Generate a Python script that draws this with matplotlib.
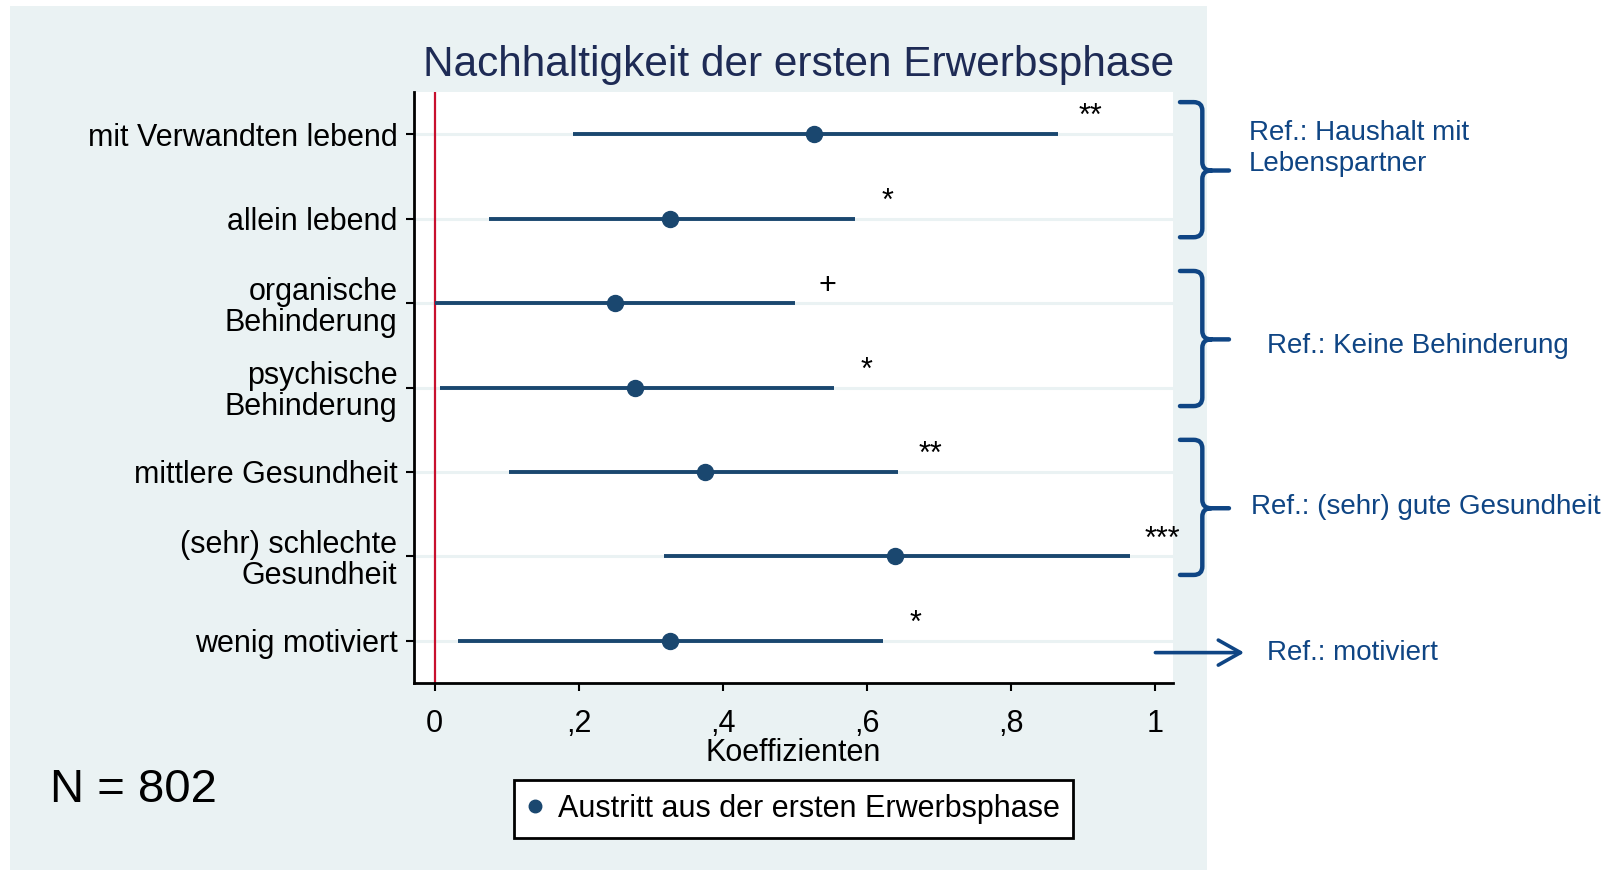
import matplotlib
matplotlib.use("Agg")
import matplotlib.pyplot as plt
from matplotlib.lines import Line2D
from matplotlib.path import Path
from matplotlib.patches import PathPatch, Rectangle

plt.rcParams["font.family"] = ["Liberation Sans", "DejaVu Sans"]

# --- data ---
LABELS = [
    "mit Verwandten lebend",
    "allein lebend",
    "organische\nBehinderung",
    "psychische\nBehinderung",
    "mittlere Gesundheit",
    "(sehr) schlechte\nGesundheit",
    "wenig motiviert",
]
COEF = [0.527, 0.327, 0.250, 0.279, 0.376, 0.640, 0.327]
CI_LOW = [0.192, 0.075, 0.000, 0.008, 0.103, 0.318, 0.032]
CI_HIGH = [0.865, 0.584, 0.501, 0.555, 0.644, 0.966, 0.623]
STARS = ["**", "*", "+", "*", "**", "***", "*"]
XTICKS = [0, 0.2, 0.4, 0.6, 0.8, 1.0]
XTICK_LABELS = ["0", ",2", ",4", ",6", ",8", "1"]

# reference groups: (first row, last row, label)
GROUPS = [
    (1, 2, "Ref.: Haushalt mit\nLebenspartner"),
    (3, 4, "Ref.: Keine Behinderung"),
    (5, 6, "Ref.: (sehr) gute Gesundheit"),
]
SINGLE_REF = (7, "Ref.: motiviert")

NAVY = "#1A476F"
REFBLUE = "#0F4584"
BG = "#EAF2F3"

W, H = 1618, 872
fig = plt.figure(figsize=(W / 100, H / 100), dpi=100)
fig.patch.set_facecolor("white")
fig.patches.append(Rectangle((10 / W, 2 / H), 1197 / W, 864 / H, transform=fig.transFigure,
                             facecolor=BG, edgecolor="none", zorder=-10))

ax = fig.add_axes([414 / W, 1 - 683 / H, (1173 - 414) / W, (683 - 92) / H])
ax.set_facecolor("white")

rows = list(range(1, len(LABELS) + 1))

for r in rows:
    ax.axhline(r, color=BG, lw=2.2, zorder=1)
ax.axvline(0, color="#C8102E", lw=1.6, zorder=2)

for r, lo, hi, c in zip(rows, CI_LOW, CI_HIGH, COEF):
    ax.plot([lo, hi], [r, r], color=NAVY, lw=2.8, solid_capstyle="butt", zorder=3)
    ax.plot(c, r, "o", color=NAVY, ms=11.5, zorder=4)

for r, hi, s in zip(rows, CI_HIGH, STARS):
    ax.text(hi + 0.045, r - 0.2, s, ha="center", va="center", fontsize=22, zorder=5)

ax.set_xlim(-0.0285, 1.0253)
ax.set_ylim(7.5, 0.5)
ax.set_yticks(rows)
ax.set_yticklabels(LABELS, fontsize=22, linespacing=1.05)
ax.set_xticks(XTICKS)
ax.set_xticklabels(XTICK_LABELS, fontsize=22)
ax.tick_params(axis="y", length=6, width=1.5, pad=6)
ax.tick_params(axis="x", length=6, width=1.5, pad=13)
for side in ["top", "right"]:
    ax.spines[side].set_visible(False)
for side in ["left", "bottom"]:
    ax.spines[side].set_linewidth(2)

# braces for the reference groups
xh, xs, xt = 1.035, 1.066, 1.103
rx, ry = 0.012, 0.1
for first, last, text in GROUPS:
    top = first - 0.38
    bot = last + 0.22
    tip = (first + last) / 2 - 0.07
    verts = [
        (xh, top), (xs - rx, top), (xs, top), (xs, top + ry),
        (xs, tip - ry), (xs, tip), (xs + rx, tip), (xt, tip),
        (xs + rx, tip), (xs, tip), (xs, tip + ry),
        (xs, bot - ry), (xs, bot), (xs - rx, bot), (xh, bot),
    ]
    codes = [
        Path.MOVETO, Path.LINETO, Path.CURVE3, Path.CURVE3,
        Path.LINETO, Path.CURVE3, Path.CURVE3, Path.LINETO,
        Path.MOVETO, Path.CURVE3, Path.CURVE3,
        Path.LINETO, Path.CURVE3, Path.CURVE3, Path.LINETO,
    ]
    ax.add_patch(PathPatch(Path(verts, codes), facecolor="none", edgecolor=REFBLUE,
                           lw=3.2, capstyle="round", joinstyle="round", clip_on=False))
    if "\n" in text:
        ax.text(1.131, tip - 0.26, text, ha="left", va="center", fontsize=20,
                color=REFBLUE, linespacing=1.25, clip_on=False)
    elif "Keine" in text:
        ax.text(1.156, tip + 0.08, text, ha="left", va="center", fontsize=20,
                color=REFBLUE, clip_on=False)
    else:
        ax.text(1.134, tip - 0.02, text, ha="left", va="center", fontsize=20,
                color=REFBLUE, clip_on=False)

row, text = SINGLE_REF
ax.annotate("", xy=(1.128, row + 0.14), xytext=(0.997, row + 0.14),
            arrowprops=dict(arrowstyle="->,head_length=0.8,head_width=0.45",
                            color=REFBLUE, lw=2.6, mutation_scale=20),
            annotation_clip=False)
ax.text(1.156, row + 0.14, text, ha="left", va="center", fontsize=20,
        color=REFBLUE, clip_on=False)

fig.text(799 / W, 1 - 65 / H, "Nachhaltigkeit der ersten Erwerbsphase",
         ha="center", va="center", fontsize=30.5, color="#1E2B55")
fig.text(793.5 / W, 1 - 753 / H, "Koeffizienten", ha="center", va="center", fontsize=22)
fig.text(50 / W, 1 - 790 / H, "N = 802", ha="left", va="center", fontsize=34)

proxy = Line2D([], [], marker="o", color=NAVY, ls="none", ms=9)
leg = fig.legend(handles=[proxy], labels=["Austritt aus der ersten Erwerbsphase"],
                 loc="center", bbox_to_anchor=(793.5 / W, 1 - 809 / H), fontsize=22,
                 frameon=True, fancybox=False, borderpad=0.45, handlelength=0.5,
                 handletextpad=0.5, borderaxespad=0)
leg.get_frame().set_edgecolor("black")
leg.get_frame().set_linewidth(2)
leg.get_frame().set_facecolor("white")
leg.get_frame().set_alpha(1)

fig.savefig("out.png", dpi=100)
